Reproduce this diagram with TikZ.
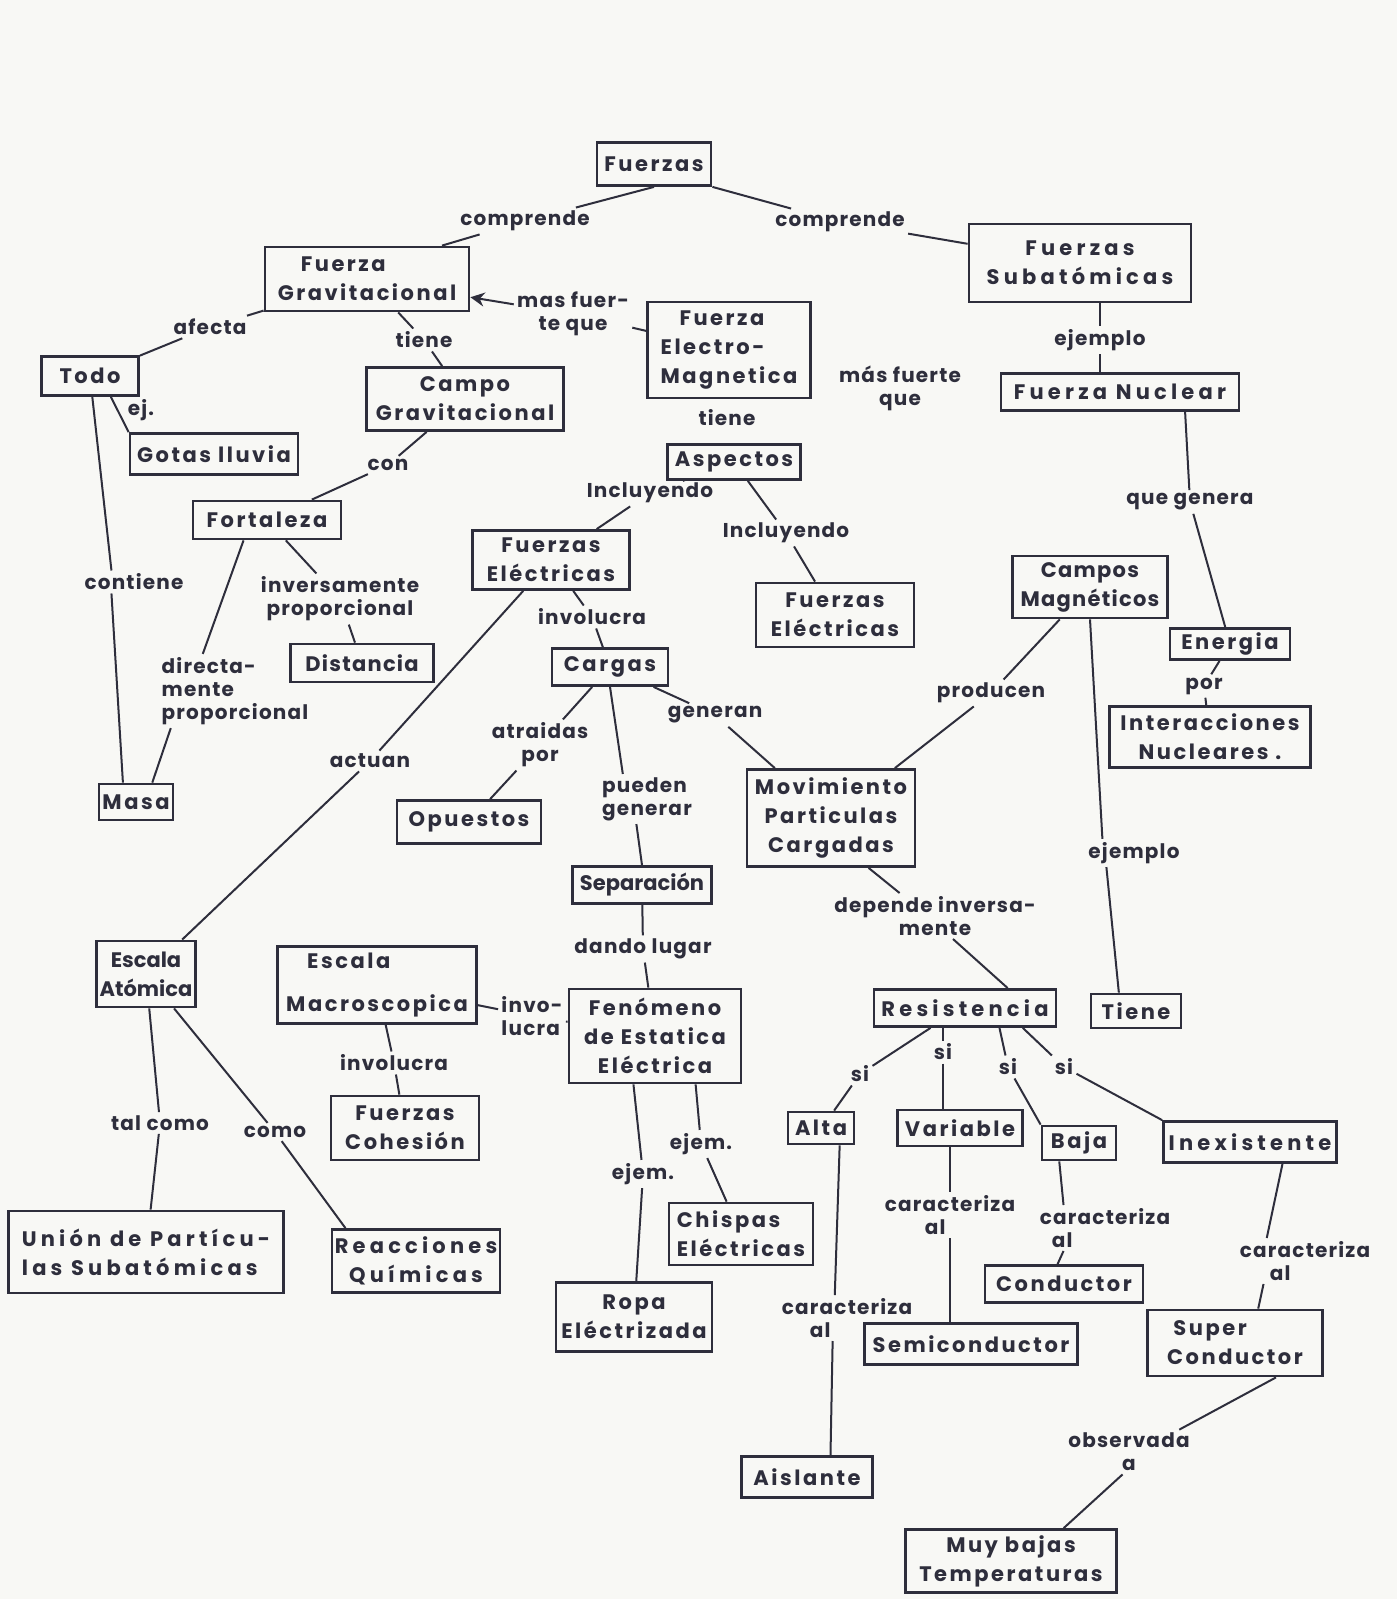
\documentclass[tikz,border=0pt]{standalone}
\usepackage{fontspec}
\setmainfont{Poppins}[LetterSpace=12]
\newfontfamily\lblfont{Poppins}[LetterSpace=6]
\newfontfamily\tightfont{Poppins}[LetterSpace=0]
\newfontfamily\widefont{Poppins}[LetterSpace=20]
\usetikzlibrary{arrows.meta}
\definecolor{ink}{HTML}{2E2E3C}
\definecolor{paper}{HTML}{F8F8F5}
\tikzset{
  mybase/.style={text=ink, font=\bfseries\fontsize{10.5}{14.5}\selectfont},
  bx/.style 2 args={mybase, draw=ink, line width=1.4pt, minimum width=#1*0.5pt, minimum height=#2*0.5pt, inner sep=1pt, align=center},
  tight/.style={font=\tightfont\bfseries\fontsize{10.5}{14.5}\selectfont},
  mid/.style={font=\lblfont\bfseries\fontsize{10.5}{14.5}\selectfont},
  wide/.style={font=\widefont\bfseries\fontsize{10.5}{14.5}\selectfont},
  lb/.style={text=ink, font=\lblfont\bfseries\fontsize{10}{11.5}\selectfont, inner sep=1.5pt, align=center},
  ln/.style={draw=ink, line width=1pt},
}
\begin{document}
\begin{tikzpicture}[x=0.5pt,y=-0.5pt]
\path[use as bounding box, fill=paper] (0,0) rectangle (1397,1599);
% ---------- concept boxes ----------
\node[bx={114}{43}] (fuerzas) at (654,164) {Fuerzas};
\node[bx={204}{64}, align=left] (fgrav) at (367,279) {\hspace*{1.1em}Fuerza\\Gravitacional};
\node[bx={222}{78}, wide] (fsub) at (1080,263) {Fuerzas\\Subatómicas};
\node[bx={163}{96}, align=left] (fem) at (729,350) {\hspace*{0.9em}Fuerza\\Electro-\\Magnetica};
\node[bx={97}{39}] (todo) at (90,376) {Todo};
\node[bx={197}{63}] (cgrav) at (465,399) {Campo\\Gravitacional};
\node[bx={238}{37}, wide] (fnuc) at (1120,392) {Fuerza Nuclear};
\node[bx={168}{41}] (gotas) at (214,454) {Gotas lluvia};
\node[bx={133}{35}] (aspectos) at (734,462) {Aspectos};
\node[bx={148}{38}] (fort) at (267,520) {Fortaleza};
\node[bx={157}{59}] (felL) at (551,560) {Fuerzas\\Eléctricas};
\node[bx={155}{62}, mid] (cmag) at (1090,587) {Campos\\Magnéticos};
\node[bx={158}{64}] (felR) at (835,615) {Fuerzas\\Eléctricas};
\node[bx={120}{31}] (energia) at (1230,644) {Energia};
\node[bx={143}{38}, mid] (dist) at (362,663) {Distancia};
\node[bx={116}{37}] (cargas) at (610,667) {Cargas};
\node[bx={201}{61}] (inter) at (1210,737) {Interacciones\\Nucleares .};
\node[bx={74}{36}] (masa) at (136,802) {Masa};
\node[bx={144}{43}] (opuestos) at (469,822) {Opuestos};
\node[bx={168}{97}] (mov) at (831,818) {Movimiento\\Particulas\\Cargadas};
\node[bx={139}{37}, tight] (sep) at (642,885) {Separación};
\node[bx={99}{66}, tight] (eatom) at (146,974) {Escala\\Atómica};
\node[bx={199}{77}, align=left] (emacro) at (377,985) {\hspace*{1em}Escala\\[7pt]Macroscopica};
\node[bx={172}{94}] (fen) at (655,1036) {Fenómeno\\de Estatica\\Eléctrica};
\node[bx={182}{37}, wide] (res) at (965,1008) {Resistencia};
\node[bx={90}{34}] (tiene) at (1136,1011) {Tiene};
\node[bx={148}{64}] (fcoh) at (405,1128) {Fuerzas\\Cohesión};
\node[bx={66}{32}] (alta) at (821,1128) {Alta};
\node[bx={125}{36}] (variable) at (960,1128) {Variable};
\node[bx={74}{34}] (baja) at (1079,1143) {Baja};
\node[bx={173}{41}, wide] (inex) at (1250,1142) {Inexistente};
\node[bx={144}{62}, align=left] (chispas) at (741,1234) {Chispas\\Eléctricas};
\node[bx={275}{82}, align=left, wide] (union) at (146,1252) {Unión de Partícu-\\las Subatómicas};
\node[bx={168}{63}, wide] (reacc) at (416,1261) {Reacciones\\Químicas};
\node[bx={158}{37}] (cond) at (1064,1284) {Conductor};
\node[bx={156}{69}] (ropa) at (634,1317) {Ropa\\Eléctrizada};
\node[bx={213}{41}] (semi) at (971,1344) {Semiconductor};
\node[bx={175}{66}, align=left] (superc) at (1235,1343) {\hspace*{0.3em}Super\\Conductor};
\node[bx={131}{41}] (aislante) at (807,1477) {Aislante};
\node[bx={211}{63}] (muy) at (1011,1561) {Muy bajas\\Temperaturas};
% ---------- linking words ----------
\node[lb] (lcompL) at (525,221) {comprende};
\node[lb] (lcompR) at (840,222) {comprende};
\node[lb] (lafecta) at (210,327) {afecta};
\node[lb] (lmasf) at (573,314) {mas fuer-\\te que};
\node[lb] (ltieneG) at (424,340) {tiene};
\node[lb] (lej) at (141,410) {ej.};
\node[lb] (lmasF2) at (900,388) {más fuerte\\que};
\node[lb] (lejemplo1) at (1100,340) {ejemplo};
\node[lb] (ltieneE) at (727,418) {tiene};
\node[lb] (lcon) at (388,465) {con};
\node[lb] (linclL) at (650,493) {Incluyendo};
\node[lb] (linclR) at (786,533) {Incluyendo};
\node[lb] (lquegen) at (1190,502) {que genera};
\node[lb] (lcontiene) at (134,582) {contiene};
\node[lb] (linvprop) at (340,599) {inversamente\\proporcional};
\node[lb] (linvolL) at (592,617) {involucra};
\node[lb, align=left] (ldirect) at (235,691) {directa-\\mente\\proporcional};
\node[lb] (lprod) at (991,693) {producen};
\node[lb] (lpor) at (1204,686) {por};
\node[lb] (lgeneran) at (715,715) {generan};
\node[lb] (latraidas) at (540,745) {atraidas\\por};
\node[lb] (lactuan) at (370,761) {actuan};
\node[lb, align=left] (lpueden) at (647,799) {pueden\\generar};
\node[lb] (lejemplo2) at (1134,853) {ejemplo};
\node[lb] (ldepende) at (935,916) {depende inversa-\\mente};
\node[lb] (ldando) at (643,949) {dando lugar};
\node[lb, align=left] (linvo) at (532,1016) {invo-\\lucra};
\node[lb] (linvolM) at (394,1063) {involucra};
\node[lb] (lsi1) at (860,1074) {si};
\node[lb] (lsi2) at (943,1052) {si};
\node[lb] (lsi3) at (1008,1067) {si};
\node[lb] (lsi4) at (1064,1067) {si};
\node[lb] (ltalcomo) at (160,1123) {tal como};
\node[lb] (lcomo) at (275,1132) {como};
\node[lb] (lejem1) at (701,1144) {ejem.};
\node[lb] (lejem2) at (643,1174) {ejem.};
\node[lb, align=left] (lcar1) at (950,1215) {caracteriza\\\hspace*{20pt}al};
\node[lb, align=left] (lcar2) at (1105,1228) {caracteriza\\\hspace*{6pt}al};
\node[lb, align=left] (lcar3) at (1305,1261) {caracteriza\\\hspace*{15pt}al};
\node[lb, align=left] (lcar4) at (847,1318) {caracteriza\\\hspace*{14pt}al};
\node[lb] (lobs) at (1129,1452) {observada\\a};
% ---------- connectors ----------
\draw[ln] (fuerzas.south) -- (lcompL);
\draw[ln] (lcompL) -- (fgrav.24);
\draw[ln] (fuerzas.south east) -- (lcompR);
\draw[ln] (lcompR) -- (fsub);
\draw[ln] (fgrav) -- (lafecta);
\draw[ln] (lafecta) -- (todo);
\draw[ln] (fem) -- (lmasf);
\draw[ln, -{Stealth[length=7pt,width=7pt]}] (lmasf) -- (fgrav.-10);
\draw[ln] (fgrav) -- (ltieneG);
\draw[ln] (ltieneG) -- (cgrav);
\draw[ln] (todo.-45) -- (gotas.north west);
\draw[ln] (todo) -- (lcontiene.153);
\draw[ln] (lcontiene.207) -- (masa.124);
\draw[ln] (fsub.south -| lejemplo1) -- (lejemplo1);
\draw[ln] (lejemplo1) -- (lejemplo1 |- fnuc.north);
\draw[ln] (fnuc.-17) -- (lquegen);
\draw[ln] (lquegen) -- (energia);
\draw[ln] (cgrav) -- (lcon);
\draw[ln] (lcon) -- (fort);
\draw[ln] (fort) -- (linvprop);
\draw[ln] (linvprop) -- (dist);
\draw[ln] (fort.221) -- (ldirect.131);
\draw[ln] (ldirect.210) -- (masa.50);
\draw[ln] (aspectos) -- (linclL);
\draw[ln] (linclL) -- (felL);
\draw[ln] (aspectos) -- (linclR);
\draw[ln] (linclR) -- (felR);
\draw[ln] (felL) -- (linvolL);
\draw[ln] (linvolL) -- (cargas);
\draw[ln] (felL) -- (lactuan);
\draw[ln] (lactuan) -- (eatom);
\draw[ln] (cargas) -- (latraidas);
\draw[ln] (latraidas) -- (opuestos);
\draw[ln] (cargas) -- (lgeneran);
\draw[ln] (lgeneran) -- (mov);
\draw[ln] (cargas.south) -- (lpueden.134);
\draw[ln] (lpueden.247) -- (sep.north);
\draw[ln] (cmag) -- (lprod);
\draw[ln] (lprod) -- (mov);
\draw[ln] (cmag.south) -- (lejemplo2.156);
\draw[ln] (lejemplo2.207) -- (tiene.133);
\draw[ln] (energia) -- (lpor);
\draw[ln] (lpor) -- (inter);
\draw[ln] (mov.-53) -- (ldepende.147);
\draw[ln] (ldepende.-52) -- (res.25);
\draw[ln] (sep) -- (ldando);
\draw[ln] (ldando) -- (fen);
\draw[ln] (emacro) -- (linvo);
\draw[ln] (linvo) -- (fen);
\draw[ln] (emacro) -- (linvolM);
\draw[ln] (linvolM) -- (fcoh);
\draw[ln] (eatom) -- (ltalcomo);
\draw[ln] (ltalcomo) -- (union);
\draw[ln] (eatom) -- (lcomo);
\draw[ln] (lcomo) -- (reacc.155);
\draw[ln] (fen.246) -- (lejem2);
\draw[ln] (lejem2) -- (ropa);
\draw[ln] (fen.-50) -- (lejem1);
\draw[ln] (lejem1) -- (chispas);
\draw[ln] (res.210) -- (lsi1);
\draw[ln] (lsi1) -- (alta.53);
\draw[ln] (res.south -| lsi2) -- (lsi2);
\draw[ln] (lsi2) -- (lsi2 |- variable.north);
\draw[ln] (res.-30) -- (lsi3);
\draw[ln] (lsi3) -- (baja.north west);
\draw[ln] (res.-19) -- (lsi4);
\draw[ln] (lsi4) -- (inex.north west);
\draw[ln] (alta.-43) -- (lcar4.118);
\draw[ln] (lcar4.238) -- (aislante.43);
\draw[ln] (variable.south -| lcar1) -- (lcar1);
\draw[ln] (lcar1) -- (lcar1 |- semi.north);
\draw[ln] (baja.223) -- (lcar2.151);
\draw[ln] (lcar2.209) -- (cond.108);
\draw[ln] (inex.-34) -- (lcar3.149);
\draw[ln] (lcar3.209) -- (superc.56);
\draw[ln] (superc.-40) -- (lobs.24);
\draw[ln] (lobs.254) -- (muy.32);
\end{tikzpicture}
\end{document}
